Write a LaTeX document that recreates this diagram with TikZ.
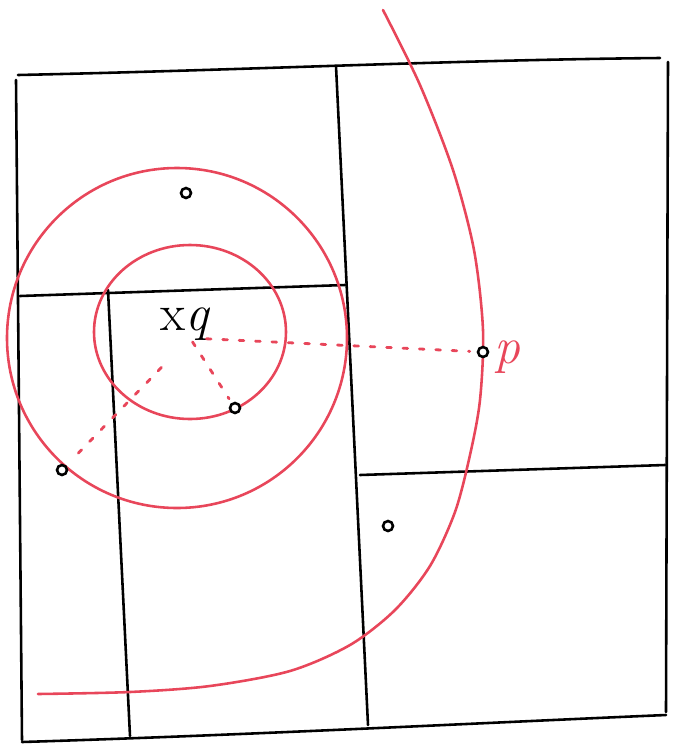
\documentclass[tikz,border=0pt]{standalone}
\usepackage{fontspec}
\usepackage{xcolor}
\usepackage{tikz}
\definecolor{pen}{RGB}{232,70,90}

\begin{document}
\begin{tikzpicture}[x=0.03cm, y=-0.03cm,
    ink/.style={line width=2.2pt, line cap=round},
    redink/.style={pen, line width=2.2pt, line cap=round},
    pt/.style={circle, draw, line width=2.2pt, inner sep=0pt, minimum size=8.5pt, fill=white},
    dashred/.style={pen, line width=2.4pt, dash pattern=on 4pt off 10pt, line cap=round}]
    \useasboundingbox (0,0) rectangle (676,744);
    % grid of cells
    \draw[ink] (18,75) .. controls (250,70) and (450,60) .. (660,58);
    \draw[ink] (16,80) -- (22,740);
    \draw[ink] (22,742) .. controls (250,735) and (500,722) .. (666,715);
    \draw[ink] (668,62) -- (666,712);
    \draw[ink] (336,66) -- (368,725);
    \draw[ink] (20,296) -- (345,285);
    \draw[ink] (108,290) -- (130,736);
    \draw[ink] (360,475) -- (665,465);
    % red curves
    \draw[redink] plot[smooth] coordinates {(383,10) (420,85) (453,170) (474,250) (483,330) (480,400) (470,455) (455,512) (430,566) (395,610) (350,645) (290,671) (210,686) (130,692) (38,694)};
    \draw[redink] (177,338) ellipse (170 and 170);
    \draw[redink] (190,332) ellipse (96 and 87);
    % points
    \node[pt] (a) at (186,193) {};
    \node[pt] (b) at (235,408) {};
    \node[pt] (c) at (62,470) {};
    \node[pt] (p) at (483,352) {};
    \node[pt] (d) at (388,526) {};
    \node[font=\fontsize{44}{46}\selectfont] (q) at (186,324) {x\textit{q}};
    \node[pen, font=\fontsize{44}{46}\selectfont, anchor=west] (plabel) at ([xshift=1pt,yshift=-4pt]p.east) {\textit{p}};
    \coordinate (qc) at (190,338);
    % distances
    \draw[dashred, shorten <=14pt, shorten >=6pt] (qc) -- (p);
    \draw[dashred, shorten <=4pt, shorten >=4pt] (qc) -- (b);
    \draw[dashred, shorten <=35pt, shorten >=14pt] (qc) -- (c);
\end{tikzpicture}
\end{document}
